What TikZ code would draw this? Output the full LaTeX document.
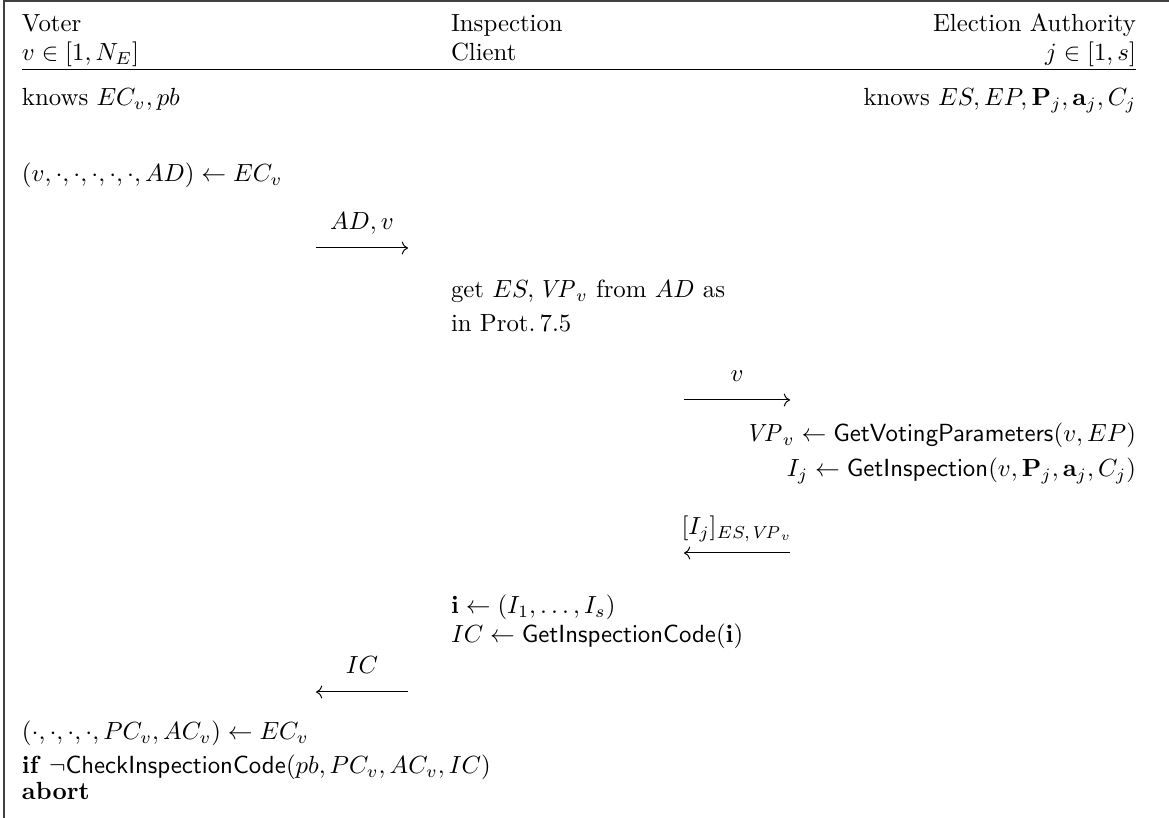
\documentclass[tikz,border=0pt]{standalone}
\usepackage{amsmath}
\usepackage{tikz}
\usetikzlibrary{positioning}
\usetikzlibrary{arrows.meta}

\begin{document}
\begin{tikzpicture}[
        x = 0.4032pt,
        y = -0.4032pt,
        txt/.style = {
            anchor = base west,
            inner sep = 0pt,
            outer sep = 0pt
        },
        rtxt/.style = {
            anchor = base east,
            inner sep = 0pt,
            outer sep = 0pt
        },
        msg/.style = {
            line width = 0.4pt,
            -{Computer Modern Rightarrow}
        },
        lbl/.style = {
            anchor = base,
            inner sep = 0pt,
            yshift = 7.5pt
        }
    ]
    \useasboundingbox (0,0) rectangle (1169,818);

    % frame and header rule
    \coordinate (tl) at (4,1);
    \coordinate (tr) at (1169,1);
    \coordinate (bl) at (4,818);
    \draw[line width=0.5pt, black!75] (bl) -- (tl) -- (tr);
    \coordinate (hl) at (22,70);
    \coordinate (hr) at (1136,70);
    \draw[line width=0.4pt] (hl) -- (hr);

    % parties
    \node[txt] (voter) at (22,32) {Voter};
    \node[txt] (vrange) at (22,61) {$v \in [1, N_E]$};
    \node[txt] (client) at (451,32) {Inspection};
    \node[txt] (client2) at (451,61) {Client};
    \node[rtxt] (auth) at (1136,32) {Election Authority};
    \node[rtxt] (jrange) at (1136,61) {$j \in [1, s]$};

    \node[txt] (vknows) at (22,106) {knows $EC_v, pb$};
    \node[rtxt] (aknows) at (1136,106) {knows $ES, EP, \mathbf{P}_j, \mathbf{a}_j, C_j$};

    \node[txt] (ec) at (22,182) {$(v, \cdot, \cdot, \cdot, \cdot, \cdot, AD) \leftarrow EC_v$};

    % voter -> client
    \coordinate (m1s) at (316,248);
    \coordinate (m1e) at (408,248);
    \draw[msg] (m1s) -- node[lbl] {$AD, v$} (m1e);

    \node[txt] (get1) at (451,298) {get $ES, \mathit{VP}_v$ from $AD$ as};
    \node[txt] (get2) at (451,332) {in Prot.\,7.5};

    % client -> authority
    \coordinate (m2s) at (684,400);
    \coordinate (m2e) at (790,400);
    \draw[msg] (m2s) -- node[lbl] {$v$} (m2e);

    \node[rtxt] (vp) at (1136,442) {$\mathit{VP}_v \leftarrow \mathsf{GetVotingParameters}(v, EP)$};
    \node[rtxt] (insp) at (1136,477) {$I_j \leftarrow \mathsf{GetInspection}(v, \mathbf{P}_j, \mathbf{a}_j, C_j)$};

    % authority -> client
    \coordinate (m3s) at (684,553);
    \coordinate (m3e) at (790,553);
    \draw[msg] (m3e) -- node[lbl] {$[I_j]_{ES, \mathit{VP}_v}$} (m3s);

    \node[txt] (ivec) at (451,614) {$\mathbf{i} \leftarrow (I_1, \dots, I_s)$};
    \node[txt] (icode) at (451,643) {$IC \leftarrow \mathsf{GetInspectionCode}(\mathbf{i})$};

    % client -> voter
    \coordinate (m4s) at (316,692);
    \coordinate (m4e) at (408,692);
    \draw[msg] (m4e) -- node[lbl] {$IC$} (m4s);

    \node[txt] (ec2) at (22,740) {$(\cdot, \cdot, \cdot, \cdot, PC_v, AC_v) \leftarrow EC_v$};
    \node[txt] (chk) at (22,774) {\textbf{if} $\neg\mathsf{CheckInspectionCode}(pb, PC_v, AC_v, IC)$};
    \node[txt] (abort) at (22,800) {\textbf{abort}};

\end{tikzpicture}
\end{document}
